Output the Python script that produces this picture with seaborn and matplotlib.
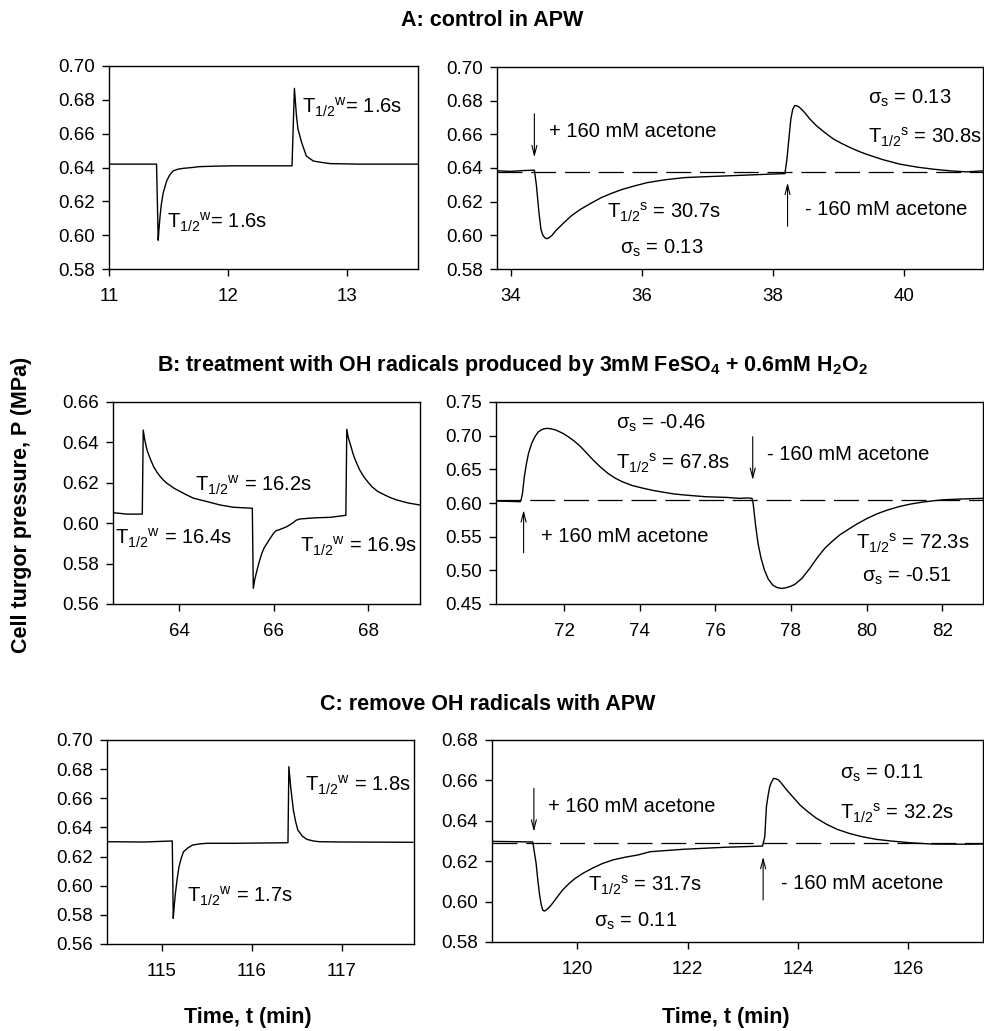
import numpy as np
import pandas as pd
import matplotlib
matplotlib.use('Agg')
import matplotlib.pyplot as plt
import seaborn as sns

# --- DATA ---
# A: control in APW
a_left_t = [11.0, 11.2, 11.40, 11.414, 11.42, 11.43, 11.44, 11.456, 11.485, 11.51, 11.54, 11.58,
            11.625, 11.7, 11.76, 11.9, 12.04, 12.3, 12.54, 12.56, 12.577, 12.59, 12.62, 12.66,
            12.72, 12.79, 12.86, 13.1, 13.35, 13.6]
a_left_p = [0.642, 0.642, 0.642, 0.597, 0.603, 0.6115, 0.618, 0.625, 0.632, 0.6355, 0.638, 0.639,
            0.6395, 0.640, 0.6405, 0.6408, 0.641, 0.641, 0.641, 0.6868, 0.6708, 0.6627, 0.655, 0.6468,
            0.6438, 0.643, 0.6423, 0.642, 0.642, 0.642]

a_right_t = [33.79, 34.0, 34.2, 34.36, 34.39, 34.43, 34.46, 34.49, 34.52, 34.55, 34.58, 34.63, 34.68,
             34.81, 34.93, 35.06, 35.22, 35.38, 35.54, 35.70, 35.9, 36.08, 36.35, 36.65, 36.95, 37.28,
             37.6, 37.92, 38.18, 38.21, 38.24, 38.27, 38.30, 38.33, 38.36, 38.40, 38.48, 38.56, 38.66,
             38.79, 38.92, 39.05, 39.17, 39.3, 39.42, 39.67, 39.93, 40.2, 40.44, 40.7, 40.95, 41.2]
a_right_p = [0.6383, 0.638, 0.6385, 0.6387, 0.630, 0.6134, 0.6035, 0.600, 0.5985, 0.598, 0.5985, 0.600,
             0.6025, 0.6075, 0.6118, 0.6154, 0.619, 0.6224, 0.625, 0.6273, 0.6295, 0.6313, 0.633, 0.6343,
             0.6348, 0.6353, 0.6358, 0.6363, 0.6367, 0.645, 0.6572, 0.6691, 0.675, 0.6771, 0.677, 0.6761,
             0.673, 0.6691, 0.6651, 0.661, 0.6572, 0.6545, 0.6522, 0.650, 0.6482, 0.645, 0.6423, 0.6405,
             0.6393, 0.6383, 0.6377, 0.6383]
a_base = 0.6378

# B: treatment with OH radicals
b_left_t = [62.6, 62.9, 63.22, 63.24, 63.27, 63.32, 63.39, 63.46, 63.53, 63.60, 63.67, 63.74, 63.88,
            64.02, 64.16, 64.30, 64.59, 64.87, 65.15, 65.55, 65.57, 65.60, 65.65, 65.70, 65.75, 65.80,
            65.86, 65.93, 66.0, 66.05, 66.1, 66.2, 66.28, 66.4, 66.48, 66.56, 66.9, 67.2, 67.53, 67.55,
            67.58, 67.64, 67.68, 67.73, 67.82, 67.91, 68.0, 68.08, 68.2, 68.35, 68.48, 68.61, 68.85, 69.1]
b_left_p = [0.6052, 0.6045, 0.6045, 0.6461, 0.6415, 0.6362, 0.6318, 0.628, 0.6253, 0.6231, 0.6213,
            0.6198, 0.6175, 0.6157, 0.614, 0.6124, 0.6107, 0.6090, 0.6079, 0.6074, 0.5678, 0.5720,
            0.5768, 0.5812, 0.5850, 0.5878, 0.5900, 0.5926, 0.5950, 0.5963, 0.5966, 0.5975, 0.5983,
            0.600, 0.6015, 0.6021, 0.6027, 0.6029, 0.6039, 0.6465, 0.6425, 0.6379, 0.6345, 0.6313,
            0.6265, 0.623, 0.6203, 0.6181, 0.6158, 0.614, 0.6126, 0.6115, 0.6100, 0.609]

b_right_t = [70.2, 70.5, 70.84, 70.87, 70.90, 70.95, 71.0, 71.06, 71.14, 71.23, 71.31, 71.39, 71.47,
             71.56, 71.67, 71.78, 71.95, 72.11, 72.28, 72.44, 72.6, 72.77, 72.96, 73.16, 73.35, 73.54,
             73.8, 74.10, 74.37, 74.65, 74.9, 75.2, 75.75, 76.3, 76.63, 76.86, 76.97, 77.0, 77.02, 77.07,
             77.13, 77.21, 77.30, 77.4, 77.52, 77.63, 77.74, 77.85, 77.96, 78.1, 78.29, 78.5, 78.7, 78.9,
             79.13, 79.3, 79.49, 79.75, 80.02, 80.28, 80.55, 80.85, 81.16, 81.47, 81.78, 82.1, 82.49,
             82.8, 83.1]
b_right_p = [0.6029, 0.6025, 0.6019, 0.606, 0.6143, 0.639, 0.657, 0.6737, 0.688, 0.6985, 0.705, 0.7084,
             0.7102, 0.7109, 0.7100, 0.7084, 0.704, 0.6985, 0.6915, 0.6836, 0.674, 0.6638, 0.6535, 0.644,
             0.637, 0.6316, 0.626, 0.6218, 0.6185, 0.6158, 0.6135, 0.6118, 0.6093, 0.6083, 0.6069, 0.6075,
             0.6069, 0.600, 0.5895, 0.565, 0.540, 0.518, 0.5004, 0.487, 0.4781, 0.4745, 0.4732, 0.4738,
             0.4756, 0.479, 0.488, 0.503, 0.519, 0.533, 0.545, 0.553, 0.5598, 0.569, 0.5772, 0.584,
             0.5895, 0.5945, 0.5984, 0.6012, 0.6034, 0.605, 0.6059, 0.6065, 0.6069]
b_base = 0.605

# C: remove OH radicals with APW
c_left_t = [114.4, 114.8, 115.115, 115.126, 115.135, 115.15, 115.17, 115.19, 115.215, 115.24, 115.29,
            115.34, 115.42, 115.50, 115.80, 116.1, 116.40, 116.41, 116.43, 116.46, 116.485, 116.51,
            116.56, 116.61, 116.68, 116.75, 117.0, 117.4, 117.79]
c_left_p = [0.6302, 0.6300, 0.6307, 0.5776, 0.585, 0.5948, 0.605, 0.6131, 0.619, 0.6233, 0.626,
            0.6279, 0.6287, 0.6291, 0.6291, 0.6293, 0.6295, 0.6817, 0.668, 0.652, 0.644, 0.6382,
            0.634, 0.6318, 0.6307, 0.6302, 0.6300, 0.6299, 0.6298]

c_right_t = [118.45, 118.8, 119.19, 119.25, 119.28, 119.31, 119.34, 119.37, 119.40, 119.43, 119.49,
             119.55, 119.64, 119.73, 119.85, 119.96, 120.1, 120.27, 120.45, 120.64, 120.87, 121.10,
             121.32, 121.92, 122.68, 123.36, 123.40, 123.43, 123.46, 123.49, 123.52, 123.56, 123.60,
             123.65, 123.72, 123.80, 123.92, 124.04, 124.19, 124.34, 124.52, 124.71, 124.94, 125.17,
             125.43, 125.69, 126.05, 126.42, 127.02, 127.36]
c_right_p = [0.6298, 0.6297, 0.6295, 0.619, 0.611, 0.6041, 0.599, 0.5958, 0.5953, 0.5958, 0.5972,
             0.5992, 0.6025, 0.6057, 0.609, 0.6115, 0.614, 0.6165, 0.6188, 0.6206, 0.622, 0.6231,
             0.6247, 0.6259, 0.6269, 0.6275, 0.6321, 0.647, 0.6525, 0.6569, 0.659, 0.661, 0.6608,
             0.6602, 0.658, 0.6552, 0.6515, 0.6478, 0.6443, 0.6412, 0.6383, 0.6358, 0.6337, 0.6321,
             0.6308, 0.630, 0.6291, 0.6285, 0.6284, 0.6285]
c_base = 0.629

# --- STYLE ---
sns.set_style("ticks")
plt.rcParams['font.family'] = ['Liberation Sans', 'DejaVu Sans']
plt.rcParams['mathtext.fontset'] = 'custom'
plt.rcParams['mathtext.rm'] = 'Liberation Sans'
plt.rcParams['mathtext.it'] = 'Liberation Sans'
plt.rcParams['mathtext.bf'] = 'Liberation Sans:bold'
plt.rcParams['text.color'] = 'black'
plt.rcParams['axes.labelcolor'] = 'black'
plt.rcParams['xtick.color'] = 'black'
plt.rcParams['ytick.color'] = 'black'

TICK_FS = 13.5
ANN_FS = 14.5
BOLD_FS = 15.5

fig = plt.figure(figsize=(9.84, 10.31), dpi=100)


def panel(rect, t, p, xlim, ylim, xticks, yticks, base=None):
    ax = fig.add_axes(rect)
    df = pd.DataFrame({'t': t, 'p': p})
    sns.lineplot(data=df, x='t', y='p', ax=ax, color='black', linewidth=1.0,
                 estimator=None, sort=False)
    if base is not None:
        ax.axhline(base, color='black', linewidth=0.9, linestyle=(0, (20, 7)))
    ax.set_xlim(xlim)
    ax.set_ylim(ylim)
    ax.set_xticks(xticks)
    ax.set_yticks(yticks)
    ax.set_yticklabels([f'{v:.2f}' for v in yticks])
    ax.set_xticklabels([f'{v:g}' for v in xticks])
    ax.set_xlabel('')
    ax.set_ylabel('')
    for s in ax.spines.values():
        s.set_visible(True)
        s.set_linewidth(1.0)
        s.set_color('black')
    ax.tick_params(direction='out', length=5, width=1, labelsize=TICK_FS, pad=5,
                   top=False, right=False, colors='black', labelcolor='black')
    ax.tick_params(axis='x', pad=9)
    return ax


def arrow(ax, x, y_from, y_to):
    ax.annotate('', xy=(x, y_to), xytext=(x, y_from),
                arrowprops=dict(arrowstyle='->,head_length=0.7,head_width=0.18',
                                lw=0.8, color='black', shrinkA=0, shrinkB=0))


def note(ax, x, y, s):
    ax.text(x, y, s, fontsize=ANN_FS, ha='left', va='center', color='black')


T_W = r'T$_{1/2}{}^{\mathrm{w}}$'
T_S = r'T$_{1/2}{}^{\mathrm{s}}$'
SIG = r'$\mathrm{\sigma_s}$'

H = 1031.0
W = 984.0


def rect(x0, x1, y0, y1):
    return [x0 / W, 1 - y1 / H, (x1 - x0) / W, (y1 - y0) / H]


# --- ROW A ---
ax = panel(rect(109, 418, 66, 269), a_left_t, a_left_p, (11, 13.6), (0.58, 0.70),
           [11, 12, 13], np.arange(0.58, 0.701, 0.02))
note(ax, 11.485, 0.6076, T_W + '= 1.6s')
note(ax, 12.62, 0.6754, T_W + '= 1.6s')

ax = panel(rect(497, 983, 67, 269), a_right_t, a_right_p, (33.79, 41.2), (0.58, 0.70),
           [34, 36, 38, 40], np.arange(0.58, 0.701, 0.02), base=a_base)
arrow(ax, 34.36, 0.6722, 0.6463)
note(ax, 34.58, 0.6614, '+ 160 mM acetone')
arrow(ax, 38.22, 0.6054, 0.6313)
note(ax, 38.49, 0.6154, '- 160 mM acetone')
note(ax, 35.47, 0.6134, T_S + ' = 30.7s')
note(ax, 35.67, 0.5925, SIG + ' = 0.13')
note(ax, 39.45, 0.6811, SIG + ' = 0.13')
note(ax, 39.45, 0.6582, T_S + ' = 30.8s')

# --- ROW B ---
ax = panel(rect(113, 420, 402, 604), b_left_t, b_left_p, (62.6, 69.1), (0.56, 0.66),
           [64, 66, 68], np.arange(0.56, 0.661, 0.02))
note(ax, 62.64, 0.5925, T_W + ' = 16.4s')
note(ax, 64.34, 0.6189, T_W + ' = 16.2s')
note(ax, 66.56, 0.5884, T_W + ' = 16.9s')

ax = panel(rect(496, 983, 402, 604), b_right_t, b_right_p, (70.2, 83.08), (0.45, 0.75),
           [72, 74, 76, 78, 80, 82], np.arange(0.45, 0.751, 0.05), base=b_base)
arrow(ax, 70.93, 0.526, 0.5895)
note(ax, 71.39, 0.55, '+ 160 mM acetone')
arrow(ax, 76.99, 0.6985, 0.6341)
note(ax, 77.36, 0.6727, '- 160 mM acetone')
note(ax, 73.38, 0.7183, SIG + ' = -0.46')
note(ax, 73.38, 0.6589, T_S + ' = 67.8s')
note(ax, 79.71, 0.54, T_S + ' = 72.3s')
note(ax, 79.88, 0.4904, SIG + ' = -0.51')

# --- ROW C ---
ax = panel(rect(107, 414, 740, 944), c_left_t, c_left_p, (114.39, 117.8), (0.56, 0.70),
           [115, 116, 117], np.arange(0.56, 0.701, 0.02))
note(ax, 115.28, 0.5925, T_W + ' = 1.7s')
note(ax, 116.59, 0.6691, T_W + ' = 1.8s')

ax = panel(rect(492, 983, 740, 942), c_right_t, c_right_p, (118.45, 127.36), (0.58, 0.68),
           [120, 122, 124, 126], np.arange(0.58, 0.681, 0.02), base=c_base)
arrow(ax, 119.21, 0.6561, 0.6346)
note(ax, 119.47, 0.647, '+ 160 mM acetone')
arrow(ax, 123.37, 0.6008, 0.6222)
note(ax, 123.69, 0.6091, '- 160 mM acetone')
note(ax, 120.19, 0.6082, T_S + ' = 31.7s')
note(ax, 120.30, 0.590, SIG + ' = 0.11')
note(ax, 124.77, 0.6635, SIG + ' = 0.11')
note(ax, 124.77, 0.6437, T_S + ' = 32.2s')

# --- TITLES & LABELS ---
fig.text(492 / W, 1 - 20 / H, 'A: control in APW', fontsize=BOLD_FS, fontweight='bold',
         ha='center', va='center')
fig.text(513 / W, 1 - 365 / H,
         r'B: treatment with OH radicals produced by 3mM FeSO$_\mathbf{4}$ + 0.6mM H$_\mathbf{2}$O$_\mathbf{2}$',
         fontsize=BOLD_FS, fontweight='bold', ha='center', va='center')
fig.text(488 / W, 1 - 705 / H, 'C: remove OH radicals with APW', fontsize=BOLD_FS,
         fontweight='bold', ha='center', va='center')
fig.text(22 / W, 1 - 505 / H, 'Cell turgor pressure, P (MPa)', fontsize=BOLD_FS,
         fontweight='bold', rotation=90, ha='center', va='center')
fig.text(248 / W, 1 - 1018 / H, 'Time, t (min)', fontsize=BOLD_FS, fontweight='bold',
         ha='center', va='center')
fig.text(726 / W, 1 - 1018 / H, 'Time, t (min)', fontsize=BOLD_FS, fontweight='bold',
         ha='center', va='center')

fig.savefig('out.png', dpi=100)
